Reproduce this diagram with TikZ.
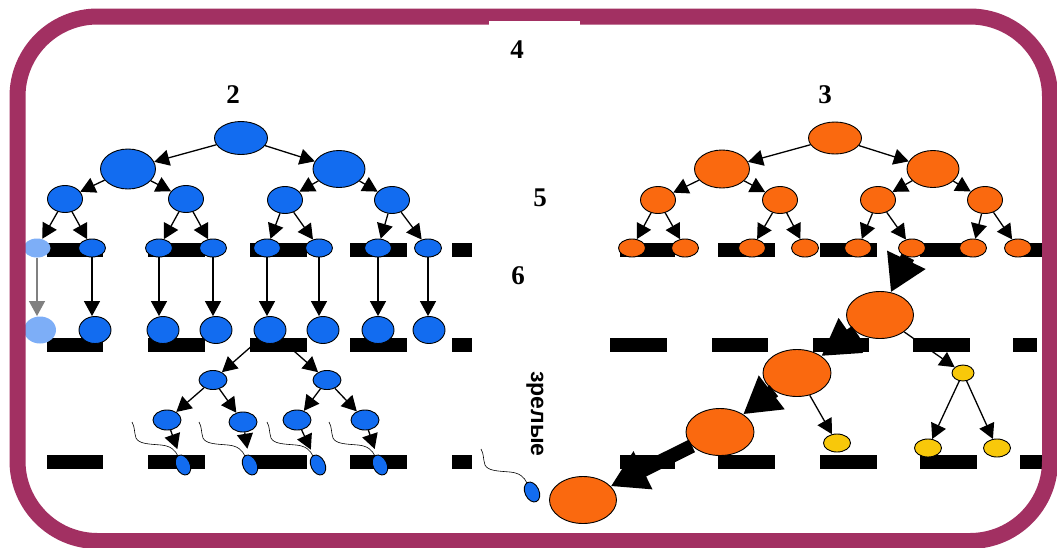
\documentclass[tikz,border=0pt]{standalone}
\usepackage{fontspec}
\setmainfont{Liberation Serif}
\newfontfamily\labelsans{Liberation Sans}
\usetikzlibrary{shapes.geometric,arrows.meta,calc}

\definecolor{framec}{RGB}{162,48,98}
\definecolor{bluec}{RGB}{18,108,240}
\definecolor{orangec}{RGB}{250,105,15}
\definecolor{yellc}{RGB}{248,200,10}

\begin{document}
\begin{tikzpicture}[x=1pt,y=-1pt,
  cell/.style={ellipse,draw=black,line width=0.9pt,inner sep=0pt},
  sz/.style 2 args={minimum width=#1pt,minimum height=#2pt},
  bcell/.style={cell,fill=bluec},
  ocell/.style={cell,fill=orangec},
  ycell/.style={cell,fill=yellc},
  faded/.style={cell,draw=none,fill=bluec!55},
  head/.style={cell,fill=bluec,sz={14}{21},rotate=25},
  ar/.style={line width=1.3pt,-{Triangle[length=15pt,width=16pt]}},
  bigar/.style={line width=14pt,-{Triangle[length=36pt,width=40pt]}},
  tail/.style={line width=0.6pt},
  num/.style={font=\fontsize{27}{27}\selectfont\bfseries,inner sep=0pt},
]
\useasboundingbox (0,0) rectangle (1057,547);
\fill[white] (0,0) rectangle (1057,547);

% --- dashed division lines ---
\foreach \y in {250,461.5}
  \foreach \xa/\xb in {47/103,148/205,250/307,350/407,452/472,620/675,718/775,820/877,920/977,1020/1042}
    \fill (\xa,\y-7) rectangle (\xb,\y+7);
\foreach \xa/\xb in {47/103,148/205,250/307,350/407,452/472,610/667,712/768,813/869,913/970,1013/1037}
  \fill (\xa,338) rectangle (\xb,352);

% --- labels ---
\node[num] (n4) at (517,50) {4};
\node[num] (n2) at (233,95) {2};
\node[num] (n3) at (825,95) {3};
\node[num] (n5) at (540,198) {5};
\node[num] (n6) at (518,276) {6};
\node[font=\labelsans\bfseries\fontsize{23}{23}\selectfont,inner sep=0pt,rotate=-90]
  (mature) at (535,414) {зрелые};

% --- blue lineage ---
\node[bcell,sz={53}{33}] (bR) at (241,138) {};
\node[bcell,sz={55}{40}] (bA) at (128,169) {};
\node[bcell,sz={52}{37}] (bB) at (339,169) {};
\node[bcell,sz={35}{27}] (bA1) at (65,199) {};
\node[bcell,sz={35}{27}] (bA2) at (186,199) {};
\node[bcell,sz={35}{27}] (bB1) at (285,200) {};
\node[bcell,sz={35}{27}] (bB2) at (392,200) {};
\node[faded,sz={27}{19}] (b1) at (37,248) {};
\foreach \n/\x in {2/92,3/159,4/213,5/267,6/319,7/378,8/428}
  \node[bcell,sz={27}{18}] (b\n) at (\x,248) {};
\node[faded,sz={32}{27}] (c1) at (40,330) {};
\foreach \n/\x in {2/95,3/163,4/216,5/270,6/323,7/378,8/429}
  \node[bcell,sz={32}{27}] (c\n) at (\x,330) {};

\foreach \p/\c in {bR/bA,bR/bB,bA/bA1,bA/bA2,bB/bB1,bB/bB2,
                   bA1/b1,bA1/b2,bA2/b3,bA2/b4,bB1/b5,bB1/b6,bB2/b7,bB2/b8}
  \draw[ar] (\p) -- (\c);
\draw[ar,gray] (b1.south) -- (b1.south |- c1.north);
\foreach \n in {2,...,8}
  \draw[ar] (b\n.south) -- (b\n.south |- c\n.north);

% second division, blue
\node[bcell,sz={28}{19}] (dA) at (213,380) {};
\node[bcell,sz={28}{19}] (dB) at (327,380) {};
\node[bcell,sz={28}{20}] (e1) at (167,420) {};
\node[bcell,sz={28}{20}] (e2) at (243,422) {};
\node[bcell,sz={28}{20}] (e3) at (297,420) {};
\node[bcell,sz={28}{20}] (e4) at (365,420) {};
\node[head] (s1) at (183,465) {};
\node[head] (s2) at (250,465) {};
\node[head] (s3) at (318,465) {};
\node[head] (s4) at (380,465) {};
\node[head] (s0) at (532,492) {};
\foreach \s in {s1,s2,s3,s4,s0}
  \draw[tail] ($(\s)+(-5,-9)$) .. controls ($(\s)+(-8,-15)$) and ($(\s)+(-12,-19)$) .. ($(\s)+(-22,-20)$)
    .. controls ($(\s)+(-34,-21)$) and ($(\s)+(-44,-21)$) .. ($(\s)+(-47,-27)$)
    .. controls ($(\s)+(-49,-33)$) and ($(\s)+(-48,-38)$) .. ($(\s)+(-51,-43)$);
\foreach \p/\c in {c5/dA,c5/dB,dA/e1,dA/e2,dB/e3,dB/e4}
  \draw[ar] (\p) -- (\c);
\foreach \n in {1,...,4}
  \draw[ar,shorten >=6pt] (e\n) -- (s\n);

% --- orange lineage ---
\node[ocell,sz={53}{32}] (oR) at (835,138) {};
\node[ocell,sz={55}{38}] (oA) at (722,169) {};
\node[ocell,sz={52}{37}] (oB) at (933,169) {};
\node[ocell,sz={35}{27}] (oA1) at (658,200) {};
\node[ocell,sz={35}{27}] (oA2) at (780,200) {};
\node[ocell,sz={35}{27}] (oB1) at (878,200) {};
\node[ocell,sz={35}{27}] (oB2) at (985,200) {};
\foreach \n/\x in {1/632,2/685,3/752,4/805,5/858,6/912,7/973,8/1018}
  \node[ocell,sz={27}{18}] (o\n) at (\x,248) {};
\foreach \p/\c in {oR/oA,oR/oB,oA/oA1,oA/oA2,oB/oB1,oB/oB2,
                   oA1/o1,oA1/o2,oA2/o3,oA2/o4,oB1/o5,oB1/o6,oB2/o7,oB2/o8}
  \draw[ar] (\p) -- (\c);

\node[ocell,sz={67}{47}] (E1) at (880,315) {};
\node[ocell,sz={68}{47}] (E2) at (797,373) {};
\node[ocell,sz={68}{47}] (E3) at (720,432) {};
\node[ocell,sz={67}{47}] (E4) at (583,500) {};
\node[ycell,sz={22}{16}] (Y1) at (963,373) {};
\node[ycell,sz={27}{18}] (Y2) at (837,443) {};
\node[ycell,sz={27}{18}] (Y3) at (928,448) {};
\node[ycell,sz={27}{18}] (Y4) at (997,448) {};

\draw[bigar] (o6) -- (E1);
\draw[bigar] (E1) -- (E2);
\draw[bigar] (E2) -- (E3);
\draw[bigar] (E3) -- (E4);
\foreach \p/\c in {E1/Y1,E2/Y2,Y1/Y3,Y1/Y4}
  \draw[ar] (\p) -- (\c);

% --- rounded frame ---
\draw[framec,line width=16pt,rounded corners=80pt] (17.5,16.5) rectangle (1050,541);
\fill[white] (489,20.5) rectangle (580,25);
\end{tikzpicture}
\end{document}
